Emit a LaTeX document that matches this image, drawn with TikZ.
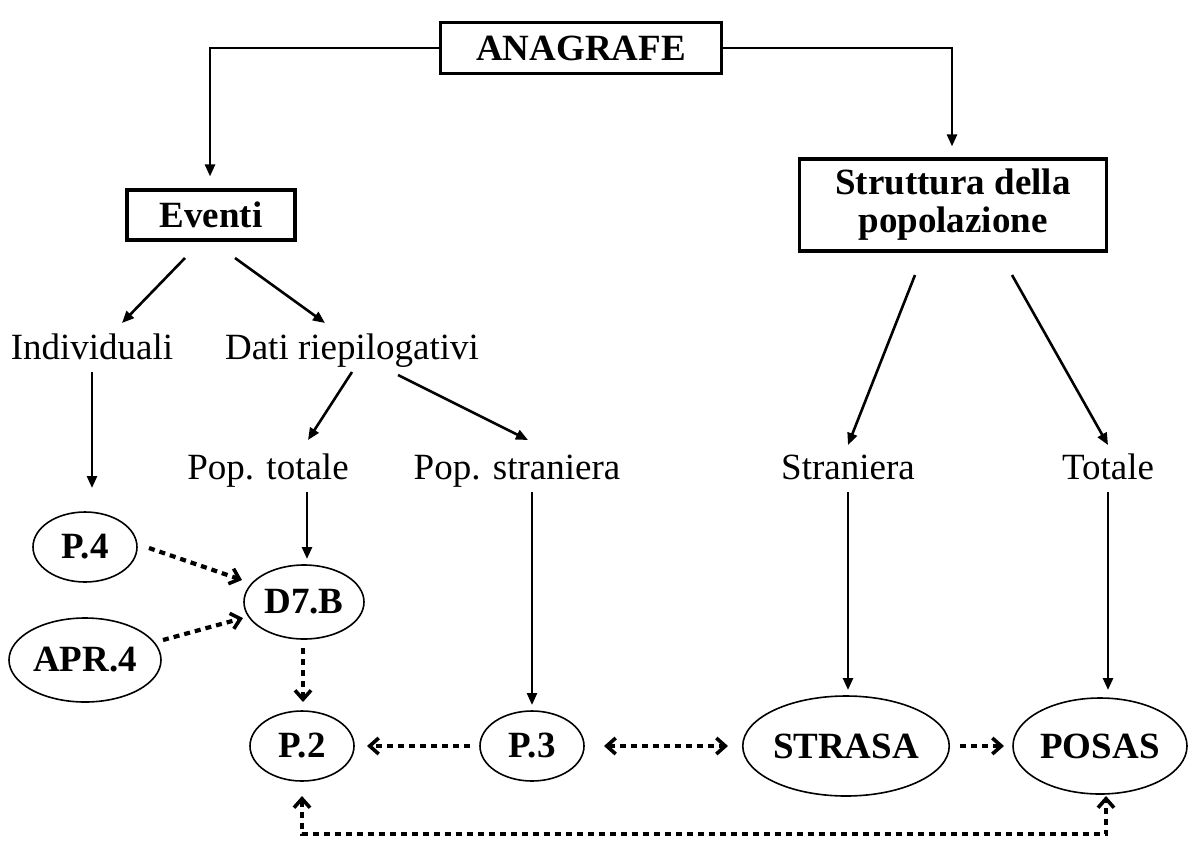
\documentclass[tikz,border=0pt]{standalone}
\usepackage{fontspec}
\setmainfont{Liberation Serif}
\usetikzlibrary{arrows.meta,calc,shapes.geometric}

\tikzset{
  txt/.style={inner sep=0pt, text height=26pt, text depth=8pt,
    font=\fontsize{37}{38}\selectfont},
  boxnode/.style={draw, line width=3.2pt, inner sep=0pt, align=center,
    font=\fontsize{37}{38}\selectfont\bfseries},
  oval/.style={draw, ellipse, line width=1.6pt, inner sep=0pt,
    font=\fontsize{37}{38}\selectfont\bfseries},
  sarr/.style={line width=2.6pt, -{Triangle[length=12pt,width=10pt]}},
  barb/.tip={Straight Barb[length=9pt,width=16pt,line width=3.6pt]},
  darr/.style={line width=4.2pt, dash pattern=on 6pt off 5pt, -barb},
  ddarr/.style={line width=4.2pt, dash pattern=on 6pt off 5pt, barb-barb},
}

\begin{document}
\begin{tikzpicture}[x=1pt,y=-1pt]
  \fill[white] (0,0) rectangle (1188,841);
  \useasboundingbox (0,0) rectangle (1188,841);

  % boxes
  \node[boxnode, minimum width=281pt, minimum height=51pt] (ana) at (581,48) {ANAGRAFE};
  \node[boxnode, minimum width=168pt, minimum height=50pt] (ev) at (211,215) {Eventi};
  \node[boxnode, minimum width=307pt, minimum height=92pt] (str) at (953,205) {Struttura della\\popolazione};

  % plain labels
  \node[txt] (ind)  at (92,350)   {Individuali};
  \node[txt] (dati) at (352,350)  {Dati riepilogativi};
  \node[txt] (ptot) at (268,470)  {Pop. totale};
  \node[txt] (pstr) at (517,470)  {Pop. straniera};
  \node[txt] (stra) at (848,470)  {Straniera};
  \node[txt] (tot)  at (1108,470) {Totale};

  % ovals
  \node[oval, minimum width=104pt, minimum height=70pt] (p4) at (85,547) {P.4};
  \node[oval, minimum width=152pt, minimum height=84pt] (apr) at (85,660) {APR.4};
  \node[oval, minimum width=120pt, minimum height=74pt] (d7) at (304,602) {D7.B};
  \node[oval, minimum width=104pt, minimum height=70pt] (p2) at (302,746) {P.2};
  \node[oval, minimum width=104pt, minimum height=70pt] (p3) at (532,746) {P.3};
  \node[oval, minimum width=204pt, minimum height=100pt] (strasa) at (846,746) {STRASA};
  \node[oval, minimum width=174pt, minimum height=96pt] (posas) at (1100,746) {POSAS};

  % solid connectors
  \draw[sarr] (ana.west) -| ($(ev.north)+(-1,-12)$);
  \draw[sarr] (ana.east) -| ($(str.north)+(-1,-11)$);
  \draw[sarr] ($(ev)+(-26,43)$) -- ($(ind)+(30,-27)$);
  \draw[sarr] ($(ev)+(24,43)$) -- ($(dati)+(-27,-27)$);
  \draw[sarr] ($(ind)+(0,22)$) -- ($(p4)+(7,-59)$);
  \draw[sarr] ($(dati)+(0,22)$) -- ($(ptot)+(40,-30)$);
  \draw[sarr] ($(dati)+(46,25)$) -- ($(pstr)+(11,-30)$);
  \draw[sarr] ($(ptot)+(39,22)$) -- ($(d7)+(3,-43)$);
  \draw[sarr] ($(pstr)+(15,22)$) -- ($(p3)+(0,-41)$);
  \draw[sarr] ($(str)+(-38,70)$) -- ($(stra)+(0,-25)$);
  \draw[sarr] ($(str)+(59,70)$) -- ($(tot)+(0,-25)$);
  \draw[sarr] ($(stra)+(0,22)$) -- ($(strasa)+(2,-56)$);
  \draw[sarr] ($(tot)+(0,22)$) -- ($(posas)+(8,-56)$);

  % dotted connectors
  \draw[darr] ($(p4)+(64,1)$) -- ($(d7)+(-62,-22)$);
  \draw[darr] ($(apr)+(78,-20)$) -- ($(d7)+(-61,16)$);
  \draw[darr] ($(d7)+(-1,46)$) -- ($(p2)+(1,-44)$);
  \draw[darr] ($(p3)+(-62,0)$) -- ($(p2)+(65,0)$);
  \draw[ddarr] ($(p3)+(72,0)$) -- ($(strasa)+(-118,0)$);
  \draw[darr] ($(strasa)+(114,0)$) -- ($(posas)+(-96,0)$);
  \draw[ddarr] ($(p2)+(0,50)$) -- ($(p2)+(0,88)$) -| ($(posas)+(6,50)$);
\end{tikzpicture}
\end{document}
